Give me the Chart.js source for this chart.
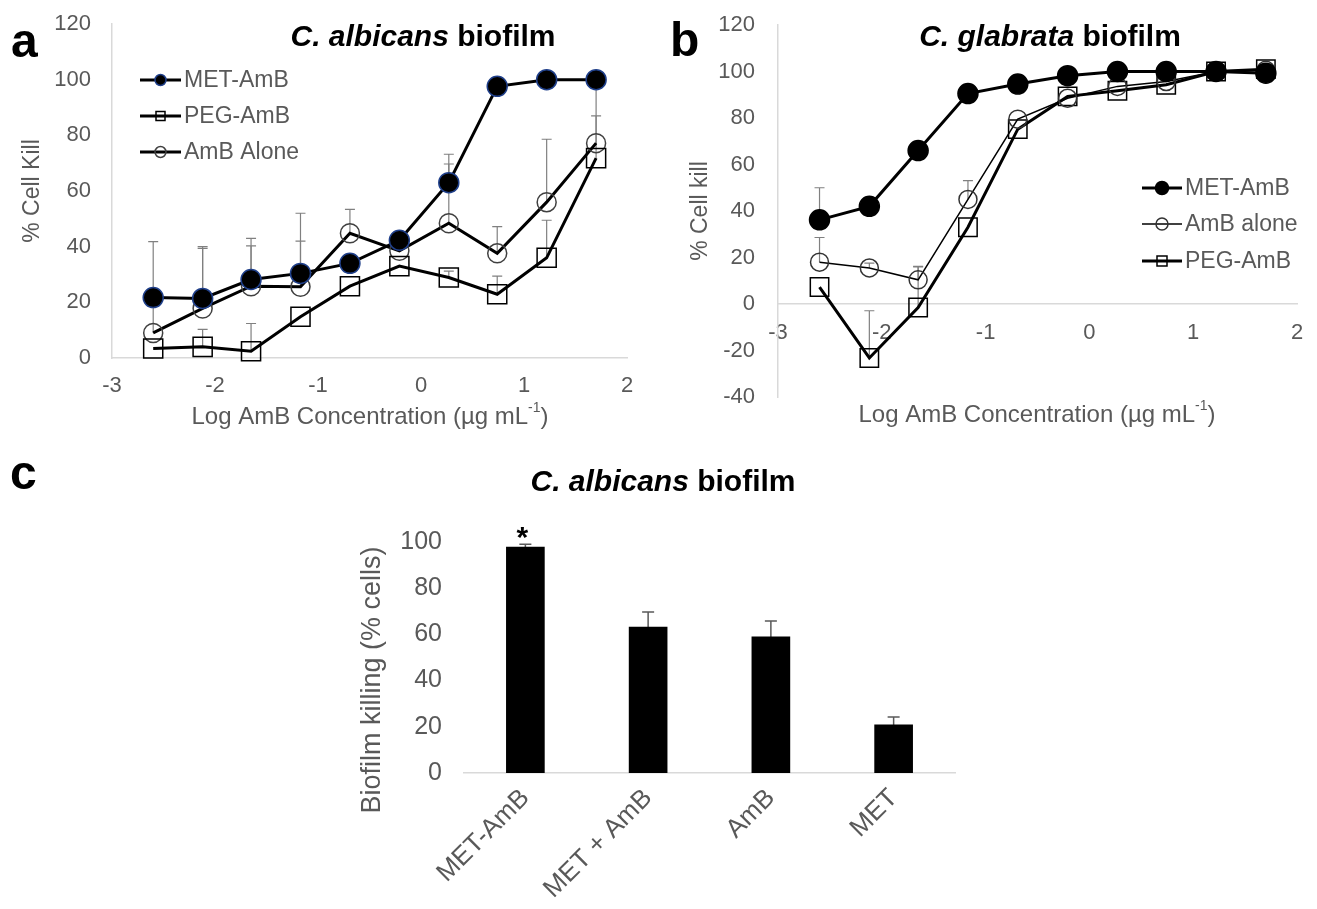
<!DOCTYPE html>
<html>
<head>
<meta charset="utf-8">
<title>Biofilm killing</title>
<script src="https://cdn.jsdelivr.net/npm/chart.js@4.4.1/dist/chart.umd.min.js"></script>
<style>
  html, body { margin: 0; padding: 0; background: #fff; }
  #page { position: relative; width: 1317px; height: 909px; overflow: hidden; }
  canvas { position: absolute; }
</style>
</head>
<body>
<div id="page">
  <canvas id="chartA" width="650" height="440" style="left:0;top:0"></canvas>
  <canvas id="chartB" width="667" height="440" style="left:650px;top:0"></canvas>
  <canvas id="chartC" width="1317" height="469" style="left:0;top:440px"></canvas>
</div>
<script>
// Log AmB concentration (3-fold dilution series)
const logConc = [-2.6, -2.12, -1.65, -1.17, -0.69, -0.21, 0.27, 0.74, 1.22, 1.70];
const xTicks = [-3, 2, 1];            // min, max, step
const yTicksA = [0, 120, 20];
const yTicksB = [-40, 120, 20];
const yTicksC = [0, 100, 20];

// Panel a - C. albicans biofilm (% cell kill, + error)
const metAmbA    = [21.7, 21.4, 28.2, 30.4, 34.0, 42.3, 63.0, 97.6, 100, 100];
const metAmbAErr = [0, 18.6, 14.8, 21.6, 0, 0, 10.2, 0, 0, 0];
const pegAmbA    = [3.4, 4.0, 2.4, 14.8, 25.8, 33.0, 28.9, 22.9, 36.0, 71.8];
const pegAmbAErr = [0, 6.3, 10.0, 0, 0, 0, 2.3, 6.5, 13.5, 28.2];
const ambA       = [9.0, 17.8, 25.8, 25.6, 44.8, 38.5, 48.4, 37.6, 56.0, 77.2];
const ambAErr    = [32.8, 21.6, 14.5, 16.4, 8.6, 0, 21.3, 9.6, 22.6, 9.8];

// Panel b - C. glabrata biofilm
const metAmbB    = [36.2, 42.0, 66.0, 90.5, 94.6, 98.2, 100, 100, 100, 99.3];
const metAmbBErr = [13.8, 0, 0, 0, 0, 0, 0, 0, 0, 0];
const ambB       = [18.0, 15.5, 10.4, 45.0, 79.5, 88.5, 93.6, 95.7, 100, 100.5];
const ambBErr    = [10.6, 2.1, 5.8, 8.1, 0, 0, 0, 0, 0, 0];
const pegAmbB    = [7.3, -23.2, -1.5, 33.0, 75.2, 89.3, 91.7, 94.3, 100, 101];
const pegAmbBErr = [0, 20.3, 17.5, 0, 0, 0, 0, 0, 0, 0];

// Panel c - C. albicans biofilm, single dose
const barLabels = ['MET-AmB', 'MET + AmB', 'AmB', 'MET'];
const barValues = [97.8, 63.2, 58.9, 20.8];
const barErr    = [1.2, 6.5, 6.9, 3.4];
const barMarks  = ['*', '', '', ''];

const FONT = '"Liberation Sans", Arial, Helvetica, sans-serif';
const GREY = '#595959';
const AXIS = '#d9d9d9';
Chart.defaults.font.family = FONT;

function pts(values) {
  return logConc.map((x, i) => ({ x: x, y: values[i] }));
}

// draws centered runs of text (for italic / superscript parts)
function drawRuns(ctx, runs, x, y, rot, color, align) {
  ctx.save();
  ctx.translate(x, y);
  if (rot) ctx.rotate(rot);
  ctx.fillStyle = color;
  ctx.textBaseline = align === 'left' ? 'alphabetic' : 'middle';
  ctx.textAlign = 'left';
  let total = 0;
  runs.forEach(r => { ctx.font = r.font; total += ctx.measureText(r.t).width; });
  let cx = align === 'left' ? 0 : -total / 2;
  runs.forEach(r => {
    ctx.font = r.font;
    ctx.fillText(r.t, cx, r.dy || 0);
    cx += ctx.measureText(r.t).width;
  });
  ctx.restore();
}

// upper error bars read from dataset.errPlus
const errorBars = {
  id: 'errorBars',
  beforeDatasetsDraw(chart) {
    const ctx = chart.ctx;
    const y = chart.scales.y;
    chart.data.datasets.forEach((ds, i) => {
      if (!ds.errPlus) return;
      const meta = chart.getDatasetMeta(i);
      ctx.save();
      ctx.strokeStyle = ds.errColor || '#808080';
      ctx.lineWidth = ds.errWidth || 1.2;
      meta.data.forEach((el, j) => {
        const e = ds.errPlus[j];
        if (!e) return;
        const d = ds.data[j];
        const v = typeof d === 'object' ? d.y : d;
        const y0 = y.getPixelForValue(v);
        const y1 = y.getPixelForValue(v + e);
        const half = (ds.errCap || 10) / 2;
        ctx.beginPath();
        ctx.moveTo(el.x, y0);
        ctx.lineTo(el.x, y1);
        ctx.moveTo(el.x - half, y1);
        ctx.lineTo(el.x + half, y1);
        ctx.stroke();
      });
      ctx.restore();
    });
  },
  afterDatasetsDraw(chart) {
    // significance marks above bars
    const ctx = chart.ctx;
    const y = chart.scales.y;
    chart.data.datasets.forEach((ds, i) => {
      if (!ds.marks) return;
      const meta = chart.getDatasetMeta(i);
      meta.data.forEach((el, j) => {
        if (!ds.marks[j]) return;
        ctx.save();
        ctx.font = 'bold 30px ' + FONT;
        ctx.fillStyle = '#000';
        ctx.textAlign = 'center';
        ctx.textBaseline = 'alphabetic';
        ctx.fillText(ds.marks[j], el.x - 3, y.getPixelForValue(ds.data[j] + ds.errPlus[j]) + 3);
        ctx.restore();
      });
    });
  }
};

// legend drawn inside the plot: line + marker + label
const insideLegend = {
  id: 'insideLegend',
  afterDraw(chart, args, opts) {
    if (!opts.items) return;
    const ctx = chart.ctx;
    ctx.save();
    opts.items.forEach((it, k) => {
      const ds = chart.data.datasets[it.index];
      const y = opts.rows[k];
      const mx = (opts.x0 + opts.x1) / 2;
      ctx.strokeStyle = ds.borderColor;
      ctx.lineWidth = ds.borderWidth;
      ctx.beginPath();
      ctx.moveTo(opts.x0, y);
      ctx.lineTo(opts.x1, y);
      ctx.stroke();
      ctx.fillStyle = ds.pointBackgroundColor;
      ctx.strokeStyle = ds.pointBorderColor;
      ctx.lineWidth = ds.pointBorderWidth;
      ctx.beginPath();
      if (ds.pointStyle === 'rect') {
        ctx.rect(mx - it.r, y - it.r, it.r * 2, it.r * 2);
      } else {
        ctx.arc(mx, y, it.r, 0, Math.PI * 2);
      }
      ctx.fill();
      ctx.stroke();
      ctx.font = opts.font;
      ctx.fillStyle = GREY;
      ctx.textAlign = 'left';
      ctx.textBaseline = 'middle';
      ctx.fillText(ds.label, opts.textX, y + 1);
    });
    ctx.restore();
  }
};

// panel letters, titles and axis titles
const panelText = {
  id: 'panelText',
  afterDraw(chart, args, opts) {
    const ctx = chart.ctx;
    (opts.items || []).forEach(it => {
      drawRuns(ctx, it.runs, it.x, it.y, it.rot || 0, it.color || '#000', it.align);
    });
  }
};

function titleRuns(italic, rest, size) {
  return [
    { t: italic, font: 'italic bold ' + size + 'px ' + FONT },
    { t: rest, font: 'bold ' + size + 'px ' + FONT }
  ];
}
const xTitleRuns = [
  { t: 'Log AmB Concentration (\u00b5g mL', font: '24px ' + FONT },
  { t: '-1', font: '14px ' + FONT, dy: -9 },
  { t: ')', font: '24px ' + FONT }
];

function lineSet(label, values, err, st) {
  return {
    label: label,
    data: pts(values),
    errPlus: err,
    borderColor: '#000',
    borderWidth: st.lw,
    pointStyle: st.style,
    pointRadius: st.r,
    pointBackgroundColor: st.fill,
    pointBorderColor: st.edge,
    pointBorderWidth: st.edgeW || 1.5,
    tension: 0,
    clip: false
  };
}

// tick offsets go through tickLength (grid hidden) so they do not eat plot height
function linScales(yt, yTickGap, yWidth, xHeight, xPos, xTickGap) {
  const x = {
    type: 'linear',
    min: xTicks[0], max: xTicks[1],
    ticks: { stepSize: xTicks[2], color: GREY, font: { size: 22 }, padding: 0 },
    grid: { display: false, drawTicks: true, tickLength: xTickGap },
    border: { color: AXIS, width: 1.5 }
  };
  if (xPos) x.position = xPos;
  if (xHeight) x.afterFit = s => { s.height = xHeight; };
  return {
    x: x,
    y: {
      min: yt[0], max: yt[1],
      ticks: { stepSize: yt[2], color: GREY, font: { size: 22 }, padding: 0 },
      grid: { display: false, drawTicks: true, tickLength: yTickGap },
      border: { color: AXIS, width: 1.5 },
      afterFit: s => { s.width = yWidth; }
    }
  };
}

// Panel a
new Chart(document.getElementById('chartA'), {
  type: 'line',
  data: {
    datasets: [
      lineSet('MET-AmB', metAmbA, metAmbAErr, { lw: 3, style: 'circle', r: 10, fill: '#000', edge: '#1f3f8a' }),
      lineSet('PEG-AmB', pegAmbA, pegAmbAErr, { lw: 3, style: 'rect', r: 13.5, fill: 'rgba(0,0,0,0)', edge: '#000' }),
      lineSet('AmB Alone', ambA, ambAErr, { lw: 3, style: 'circle', r: 9.5, fill: 'rgba(0,0,0,0)', edge: '#404040' })
    ]
  },
  options: {
    responsive: false,
    animation: false,
    events: [],
    layout: { padding: { left: 0, right: 23, top: 24, bottom: 0 } },
    scales: linScales(yTicksA, 21, 112, 82, null, 15),
    plugins: {
      legend: { display: false },
      tooltip: { enabled: false },
      insideLegend: {
        x0: 140, x1: 181, textX: 184, rows: [80, 116, 152],
        font: '23px ' + FONT,
        items: [{ index: 0, r: 5.5 }, { index: 1, r: 4.5 }, { index: 2, r: 5.5 }]
      },
      panelText: {
        items: [
          { runs: [{ t: 'a', font: 'bold 48px ' + FONT }], x: 11, y: 57, align: 'left' },
          { runs: titleRuns('C. albicans', ' biofilm', 30), x: 423, y: 38 },
          { runs: [{ t: '% Cell Kill', font: '23px ' + FONT }], x: 33, y: 191, rot: -Math.PI / 2, color: GREY },
          { runs: xTitleRuns, x: 370, y: 417, color: GREY }
        ]
      }
    }
  },
  plugins: [errorBars, insideLegend, panelText]
});

// Panel b
new Chart(document.getElementById('chartB'), {
  type: 'line',
  data: {
    datasets: [
      lineSet('MET-AmB', metAmbB, metAmbBErr, { lw: 3, style: 'circle', r: 10, fill: '#000', edge: '#000' }),
      lineSet('AmB alone', ambB, ambBErr, { lw: 1.5, style: 'circle', r: 9, fill: 'rgba(0,0,0,0)', edge: '#333' }),
      lineSet('PEG-AmB', pegAmbB, pegAmbBErr, { lw: 3, style: 'rect', r: 13, fill: 'rgba(0,0,0,0)', edge: '#000' })
    ]
  },
  options: {
    responsive: false,
    animation: false,
    events: [],
    layout: { padding: { left: 0, right: 20, top: 25, bottom: 43 } },
    scales: linScales(yTicksB, 23, 128, 0, { y: 0 }, 16),
    plugins: {
      legend: { display: false },
      tooltip: { enabled: false },
      insideLegend: {
        x0: 492, x1: 532, textX: 535, rows: [188, 224, 261],
        font: '23px ' + FONT,
        items: [{ index: 0, r: 6.5 }, { index: 1, r: 6 }, { index: 2, r: 5 }]
      },
      panelText: {
        items: [
          { runs: [{ t: 'b', font: 'bold 48px ' + FONT }], x: 20, y: 56, align: 'left' },
          { runs: titleRuns('C. glabrata', ' biofilm', 30), x: 400, y: 38 },
          { runs: [{ t: '% Cell kill', font: '23px ' + FONT }], x: 51, y: 211, rot: -Math.PI / 2, color: GREY },
          { runs: xTitleRuns, x: 387, y: 415, color: GREY }
        ]
      }
    }
  },
  plugins: [errorBars, insideLegend, panelText]
});

// Panel c
new Chart(document.getElementById('chartC'), {
  type: 'bar',
  data: {
    labels: barLabels,
    datasets: [{
      label: 'Biofilm killing',
      data: barValues,
      errPlus: barErr,
      marks: barMarks,
      errColor: '#595959',
      errWidth: 1.5,
      errCap: 12,
      backgroundColor: '#000',
      borderWidth: 0,
      barThickness: 38
    }]
  },
  options: {
    responsive: false,
    animation: false,
    events: [],
    layout: { padding: { left: 0, right: 362, top: 102, bottom: 0 } },
    scales: {
      x: {
        ticks: { color: GREY, font: { size: 26 }, maxRotation: 45, minRotation: 45, padding: 0 },
        grid: { display: false, drawTicks: true, tickLength: 10 },
        border: { color: AXIS, width: 1.5 },
        afterFit: s => { s.height = 136; }
      },
      y: {
        min: yTicksC[0], max: yTicksC[1],
        ticks: { stepSize: yTicksC[2], color: GREY, font: { size: 25 }, padding: 0 },
        grid: { display: false, drawTicks: true, tickLength: 22 },
        border: { display: false },
        afterFit: s => { s.width = 464; }
      }
    },
    plugins: {
      legend: { display: false },
      tooltip: { enabled: false },
      panelText: {
        items: [
          { runs: [{ t: 'c', font: 'bold 48px ' + FONT }], x: 10, y: 49, align: 'left' },
          { runs: titleRuns('C. albicans', ' biofilm', 30), x: 663, y: 43 },
          { runs: [{ t: 'Biofilm killing (% cells)', font: '27px ' + FONT }], x: 373, y: 240, rot: -Math.PI / 2, color: GREY }
        ]
      }
    }
  },
  plugins: [errorBars, panelText]
});
</script>
</body>
</html>
